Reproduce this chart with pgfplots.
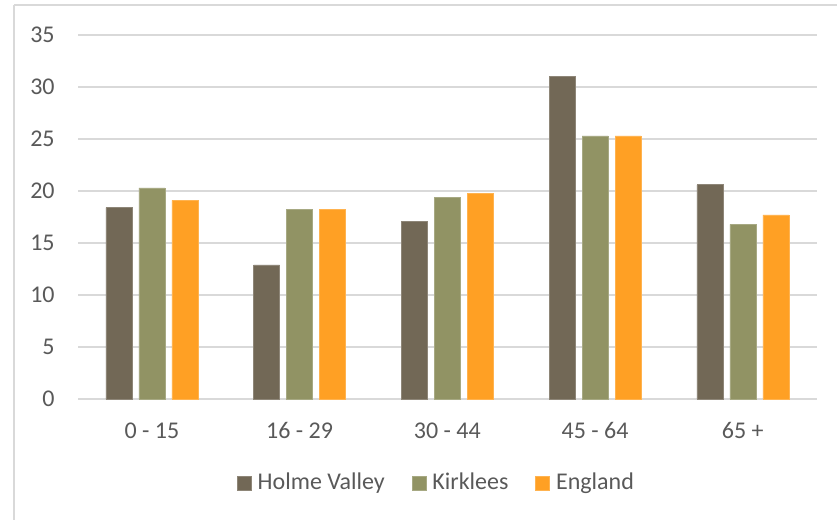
\documentclass[border=0pt]{standalone}
\usepackage{pgfplots}
\pgfplotsset{compat=1.18}
\usepackage{fontspec}
\setmainfont{Carlito}

\definecolor{hv}{HTML}{726856}
\definecolor{kirk}{HTML}{919364}
\definecolor{eng}{HTML}{FFA024}
\definecolor{gridgray}{HTML}{D9D9D9}
\definecolor{framegray}{HTML}{D9D9D9}
\definecolor{labelgray}{HTML}{595959}

% Population share by age band (%)
\pgfplotstableread{
x hv kirk eng
0 18.4 20.3 19.1
1 12.9 18.2 18.2
2 17.1 19.4 19.8
3 31.0 25.3 25.3
4 20.6 16.8 17.7
}\agedata

\begin{document}
\fontsize{12bp}{14.4bp}\selectfont
\begin{tikzpicture}
% canvas and chart-area frame (top and left edges)
\path[use as bounding box] (0bp,0bp) rectangle (418.5bp,260bp);
\draw[framegray,line width=0.75bp] (7bp,257.5bp) -- (418.5bp,257.5bp);
\draw[framegray,line width=0.75bp] (7bp,257.5bp) -- (7bp,0bp);
\begin{axis}[
  at={(39bp,60.5bp)}, anchor=south west,
  scale only axis,
  width=369.35bp, height=182bp,
  xmin=-0.5, xmax=4.5,
  ymin=0, ymax=35,
  ytick={0,5,...,35},
  xtick=data,
  xticklabels={0 - 15,16 - 29,30 - 44,45 - 64,65 +},
  axis line style={draw=none},
  major tick length=0pt,
  ymajorgrids,
  grid style={gridgray,line width=0.75bp},
  /pgf/number format/assume math mode=true,
  tick label style={text=labelgray,font=\fontsize{12bp}{14.4bp}\selectfont},
  y tick label style={anchor=east,inner sep=0pt,xshift=-11.5bp},
  x tick label style={anchor=north,inner sep=0pt,yshift=-11.6bp},
  ybar, bar width=13bp,
  legend style={
    at={(0.484,-0.231)}, anchor=center,
    draw=none, fill=none, inner sep=0pt, outer sep=0pt,
    legend columns=3,
    font=\fontsize{12bp}{14.4bp}\selectfont,
    text=labelgray,
    nodes={inner sep=0pt},
    /tikz/every odd column/.append style={column sep=3bp},
    /tikz/every even column/.append style={column sep=13.5bp},
  },
  legend image code/.code={\fill[#1] (0bp,-3.5bp) rectangle (7bp,3.5bp);},
]
\addplot[fill=hv,draw=hv!80!white,line width=0.3bp,bar shift=-16.5bp] table[x=x,y=hv] {\agedata};
\addplot[fill=kirk,draw=kirk!80!white,line width=0.3bp,bar shift=0bp] table[x=x,y=kirk] {\agedata};
\addplot[fill=eng,draw=eng!80!white,line width=0.3bp,bar shift=16.5bp] table[x=x,y=eng] {\agedata};
\legend{Holme Valley,Kirklees,England}
\end{axis}
\end{tikzpicture}
\end{document}
